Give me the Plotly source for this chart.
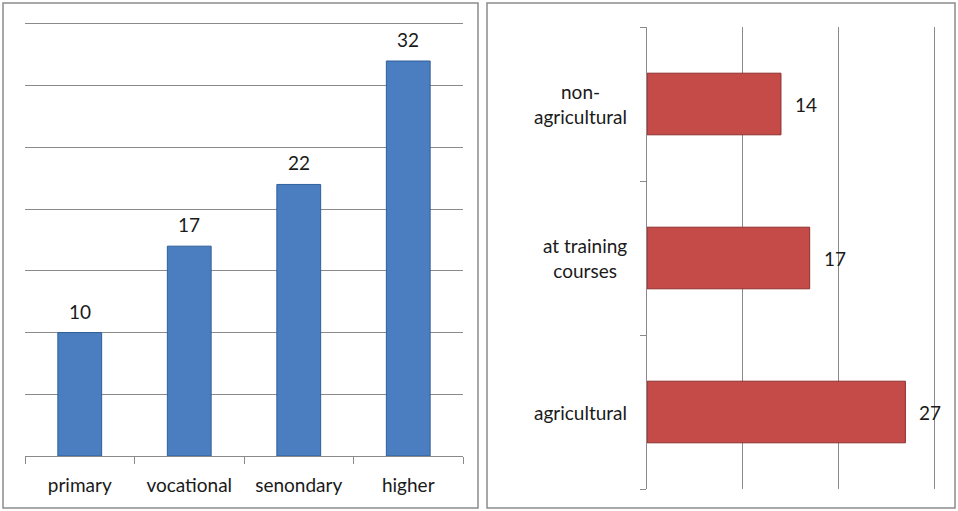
import plotly.graph_objects as go

edu_levels = ["primary", "vocational", "senondary", "higher"]
edu_values = [10, 17, 22, 32]

train_types = ["agricultural", "at training<br>courses", "non-<br>agricultural"]
train_values = [27, 17, 14]

W, H = 958, 511
FONT = "Lato, Open Sans, sans-serif"
TXT = "#1a1a1a"
GRID = "#8a8a8a"
FS = 19

fig = go.Figure()

fig.add_trace(go.Bar(
    x=edu_levels, y=edu_values, xaxis="x", yaxis="y",
    marker=dict(color="#4A7EC0", line=dict(color="#2F5F99", width=1)),
    showlegend=False, hoverinfo="x+y",
))

fig.add_trace(go.Bar(
    y=train_types, x=train_values, orientation="h", xaxis="x2", yaxis="y2",
    marker=dict(color="#C44B48", line=dict(color="#8E2F2D", width=1)),
    showlegend=False, hoverinfo="x+y",
))

annotations = []
for c, v in zip(edu_levels, edu_values):
    annotations.append(dict(x=c, y=v, xref="x", yref="y", text=str(v),
                            showarrow=False, yanchor="bottom", yshift=8,
                            font=dict(size=FS, color=TXT, family=FONT)))
for c, v in zip(train_types, train_values):
    annotations.append(dict(x=v, y=c, xref="x2", yref="y2", text=str(v),
                            showarrow=False, xanchor="left", xshift=12,
                            font=dict(size=FS, color=TXT, family=FONT)))
    # category labels, centred multi-line like the original
    annotations.append(dict(x=0, y=c, xref="x2 domain", yref="y2", text=c,
                            showarrow=False, xanchor="right", align="center",
                            xshift=-18,
                            font=dict(size=FS, color=TXT, family=FONT)))


def px(v):
    return v / W


def py(v):
    return 1 - v / H


fig.update_layout(
    width=W, height=H,
    margin=dict(l=0, r=0, t=0, b=0),
    paper_bgcolor="white", plot_bgcolor="white",
    bargap=0.6,
    font=dict(family=FONT, size=FS, color=TXT),
    xaxis=dict(
        domain=[px(25), px(463)], anchor="y",
        showgrid=False, showline=True, linecolor=GRID, linewidth=1,
        ticks="outside", tickson="boundaries", ticklen=7, tickcolor=GRID,
        ticklabelstandoff=12,
        tickfont=dict(size=FS, color=TXT, family=FONT),
    ),
    yaxis=dict(
        domain=[py(456), py(21.5)], anchor="x",
        range=[0, 35.2], tick0=0, dtick=5, showticklabels=False,
        showgrid=True, gridcolor=GRID, gridwidth=1,
        zeroline=False, showline=False,
    ),
    xaxis2=dict(
        domain=[px(647), px(936)], anchor="y2",
        range=[0, 30.2], tick0=0, dtick=10, showticklabels=False,
        showgrid=True, gridcolor=GRID, gridwidth=1,
        zeroline=False, showline=False,
    ),
    yaxis2=dict(
        domain=[py(489), py(27)], anchor="x2",
        showgrid=False, showline=True, linecolor=GRID, linewidth=1,
        ticks="outside", tickson="boundaries", ticklen=6, tickcolor=GRID,
        showticklabels=False,
    ),
    annotations=annotations,
    shapes=[
        dict(type="rect", xref="paper", yref="paper",
             x0=px(3), x1=px(478), y0=py(508), y1=py(3),
             line=dict(color="#8c8c8c", width=1.5)),
        dict(type="rect", xref="paper", yref="paper",
             x0=px(487), x1=px(955), y0=py(508), y1=py(3),
             line=dict(color="#8c8c8c", width=1.5)),
    ],
)

fig.write_html("out.html",
               config={"displayModeBar": False},
               post_script="document.body.style.margin='0';document.body.style.overflow='hidden';")
